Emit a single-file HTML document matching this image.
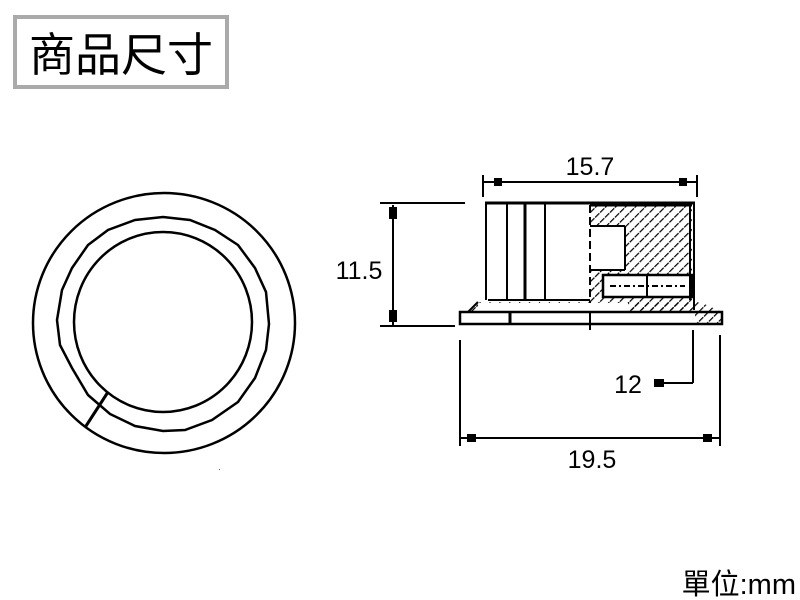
<!DOCTYPE html>
<html><head><meta charset="utf-8"><style>
body{margin:0;background:#fff;width:800px;height:600px;overflow:hidden}
svg{display:block}
text{font-family:"Liberation Sans","Noto Sans CJK TC",sans-serif}
</style></head><body>
<svg width="800" height="600" viewBox="0 0 800 600">
<defs>
<pattern id="h" width="7" height="7" patternUnits="userSpaceOnUse" patternTransform="rotate(45)">
<line x1="0" y1="0" x2="0" y2="7" stroke="#000" stroke-width="2.4" stroke-dasharray="6 1.5"/>
</pattern>
</defs>
<rect x="15" y="17" width="212" height="70" fill="#fff" stroke="#aaa" stroke-width="4"/>
<text x="121" y="71" font-size="46" text-anchor="middle" font-family="Noto Sans CJK TC,sans-serif">商品尺寸</text>

<g fill="none" stroke="#000" stroke-width="2.5">
<ellipse cx="164" cy="323" rx="131" ry="130"/>
<path d="M163,217 L190,220 L215,230 L238,245 L255,268 L266,292 L269,324 L266,350 L255,378 L238,402 L212,420 L185,430 L163,431 L135,426 L110,414 L88,395 L72,368 L60,345 L57,320 L62,290 L72,268 L88,245 L108,230 L135,220 Z"/>
<ellipse cx="163" cy="322" rx="89" ry="90"/>
<line x1="86" y1="426" x2="108" y2="392" stroke-width="3"/>
</g>

<g stroke="#000" fill="none" stroke-width="2">
<line x1="483" y1="182" x2="697" y2="182"/>
<line x1="483" y1="175" x2="483" y2="197"/>
<line x1="697" y1="175" x2="697" y2="197"/>
<rect x="495" y="179" width="6" height="6" fill="#000"/>
<rect x="680" y="179" width="6" height="6" fill="#000"/>
<line x1="380" y1="203" x2="465" y2="203"/>
<line x1="380" y1="326" x2="455" y2="326"/>
<line x1="393" y1="205" x2="393" y2="325"/>
<rect x="390" y="208" width="6" height="10" fill="#000"/>
<rect x="390" y="311" width="6" height="10" fill="#000"/>
<rect x="590" y="205" width="102" height="105" fill="url(#h)" stroke="none"/>
<rect x="590" y="226" width="35" height="44" fill="#fff" stroke="none"/>
<rect x="603" y="275" width="89" height="22" fill="#fff" stroke="none"/>
<line x1="485" y1="203" x2="695" y2="203" stroke-width="3"/>
<line x1="590" y1="205" x2="692" y2="205" stroke-width="3"/>
<line x1="486" y1="203" x2="486" y2="300"/>
<line x1="507" y1="203" x2="507" y2="300"/>
<line x1="525" y1="203" x2="525" y2="300" stroke-width="3"/>
<line x1="545" y1="203" x2="545" y2="300"/>
<line x1="694" y1="203" x2="694" y2="310"/>
<line x1="690" y1="205" x2="690" y2="300"/>
<line x1="590" y1="226" x2="625" y2="226"/>
<line x1="625" y1="226" x2="625" y2="270"/>
<line x1="590" y1="270" x2="625" y2="270"/>
<line x1="590" y1="205" x2="590" y2="325" stroke-dasharray="8 4"/>
<rect x="603" y="275" width="89" height="22" stroke-width="2.5"/>
<line x1="647" y1="275" x2="647" y2="297"/>
<line x1="610" y1="286" x2="685" y2="286" stroke-dasharray="6 3 2 3"/>
<line x1="488" y1="300" x2="590" y2="300"/>
<polygon points="468,312 478,302 700,302 722,312" fill="url(#h)" stroke="none"/>
<rect x="478" y="303" width="150" height="8" fill="#fff" stroke="none"/>
<line x1="478" y1="302" x2="468" y2="312"/>
<rect x="460" y="312" width="262" height="12" fill="#fff" stroke-width="2.5"/>
<rect x="695" y="313" width="26" height="10" fill="url(#h)" stroke="none"/>
<line x1="510" y1="312" x2="510" y2="324" stroke-width="3"/>
<line x1="590" y1="312" x2="590" y2="330"/>
<line x1="460" y1="340" x2="460" y2="446"/>
<line x1="720" y1="335" x2="720" y2="446"/>
<line x1="460" y1="438" x2="720" y2="438"/>
<rect x="468" y="435" width="7" height="6" fill="#000"/>
<rect x="704" y="435" width="7" height="6" fill="#000"/>
<line x1="693" y1="330" x2="693" y2="383"/>
<line x1="655" y1="383" x2="693" y2="383"/>
<rect x="655" y="380" width="8" height="6" fill="#000"/>
</g>
<g font-size="25" fill="#000">
<text x="590" y="175" text-anchor="middle">15.7</text>
<text x="359" y="279" text-anchor="middle">11.5</text>
<text x="592" y="468" text-anchor="middle">19.5</text>
<text x="628" y="393" text-anchor="middle">12</text>
<text x="796" y="594" text-anchor="end" font-size="29" font-family="Noto Sans CJK TC,sans-serif">單位:mm</text>
</g>
<text x="218" y="472" font-size="8">·</text>
</svg>
</body></html>
